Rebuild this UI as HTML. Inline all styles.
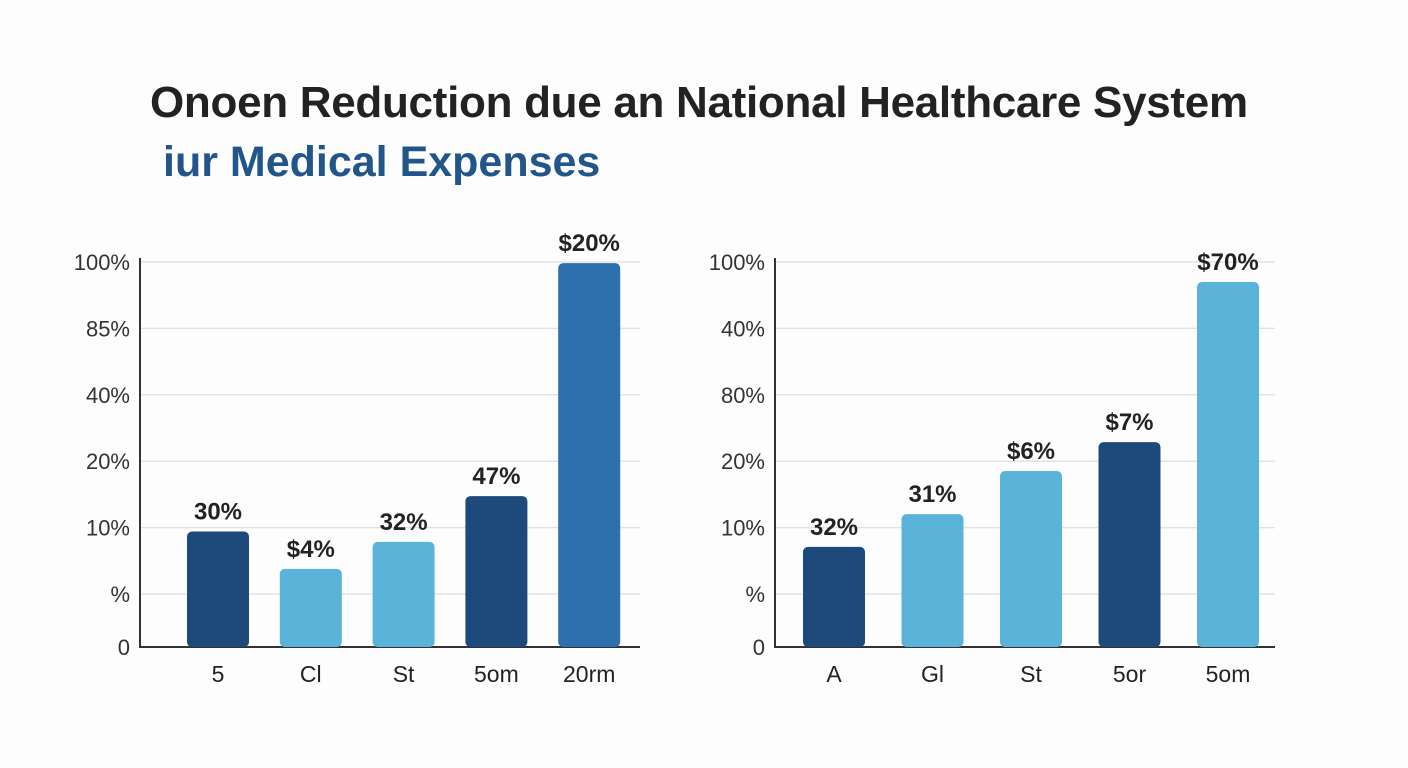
<!DOCTYPE html>
<html><head><meta charset="utf-8"><style>
body{margin:0;width:1408px;height:768px;background:#fdfdfd;font-family:"Liberation Sans",sans-serif;overflow:hidden}
#title{position:absolute;left:150px;top:78px;font-size:44px;font-weight:bold;color:#222;margin:0;letter-spacing:-0.3px}
#sub{position:absolute;left:163px;top:138px;font-size:43px;font-weight:bold;color:#22568a;margin:0}
svg{position:absolute;left:0;top:0}
</style></head><body>
<h1 id="title">Onoen Reduction due an National Healthcare System</h1>
<h2 id="sub">iur Medical Expenses</h2>
<svg id="svg" width="1408" height="768"></svg>
<script>
const leftCats=["5","Cl","St","5om","20rm"];
const leftVals=[30,20.3,27.3,39.2,99.7];
const leftLabels=["30%","$4%","32%","47%","$20%"];
const leftTicks=["100%","85%","40%","20%","10%","%","0"];
const rightCats=["A","Gl","St","5or","5om"];
const rightVals=[26,34.5,45.7,53.2,94.8];
const rightLabels=["32%","31%","$6%","$7%","$70%"];
const rightTicks=["100%","40%","80%","20%","10%","%","0"];
const leftColors=["#1d4a7a","#5ab4d9","#5ab4d9","#1d4a7a","#2e6fad"];
const rightColors=["#1d4a7a","#5ab4d9","#5ab4d9","#1d4a7a","#5ab4d9"];
const NS="http://www.w3.org/2000/svg";
const svg=document.getElementById('svg');
function mk(t,a,txt){const e=document.createElementNS(NS,t);for(const k in a)e.setAttribute(k,a[k]);if(txt!=null)e.textContent=txt;svg.appendChild(e);return e;}
function chart(cfg,cats,vals,labels,ticks,colors,pre){
  const y0=647,y1=262;
  const ys=v=>y0-(v/100)*(y0-y1);
  const tickY=i=>i<ticks.length-1?262+i*66.4:647;
  ticks.forEach((t,i)=>{
    const y=tickY(i);
    const g=mk('line',{x1:cfg.ax,x2:cfg.end,y1:y,y2:y,stroke:i==ticks.length-1?'#333':'#e3e3e3','stroke-width':i==ticks.length-1?2:1.5});
    
    
    const l=mk('text',{x:cfg.ax-10,y:y+8,'text-anchor':'end','font-size':22,fill:'#333'},t);
    
    
  });
  const ax=mk('line',{x1:cfg.ax,x2:cfg.ax,y1:258,y2:648,stroke:'#333','stroke-width':2});
  
  
  cats.forEach((c,i)=>{
    const cx=cfg.x0+i*cfg.step, w=62, top=ys(vals[i]);
    const b=mk('rect',{x:cx-w/2,y:top,width:w,height:y0-top,rx:5,fill:colors[i]});
    
    
    const v=mk('text',{x:cx,y:top-12,'text-anchor':'middle','font-size':24,'font-weight':'bold',fill:'#222'},labels[i]);
    
    
    const x=mk('text',{x:cx,y:682,'text-anchor':'middle','font-size':23,fill:'#222'},c);
    
    
  });
}
chart({ax:140,end:640,x0:218,step:92.8},leftCats,leftVals,leftLabels,leftTicks,leftColors,'left');
chart({ax:775,end:1275,x0:834,step:98.5},rightCats,rightVals,rightLabels,rightTicks,rightColors,'right');
</script>
</body></html>
